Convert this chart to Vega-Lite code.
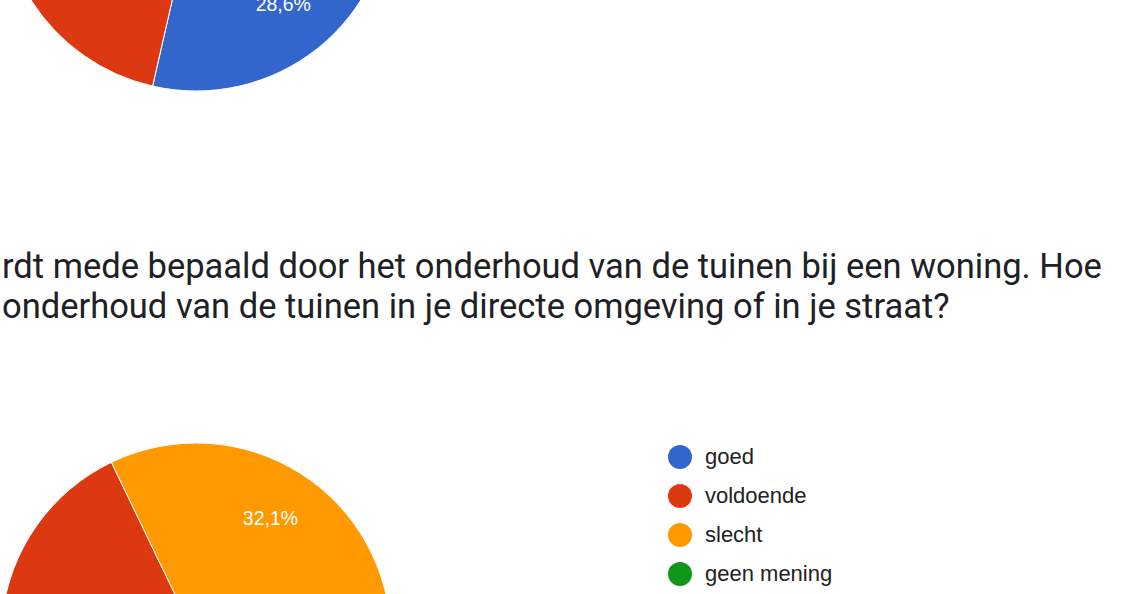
{
  "$schema": "https://vega.github.io/schema/vega-lite/v6.json",
  "width": 1140,
  "height": 594,
  "autosize": {"type": "none"},
  "padding": 0,
  "background": "white",
  "config": {
    "view": {"stroke": null},
    "locale": {"number": {"decimal": ",", "thousands": ".", "grouping": [3], "currency": ["€ ", ""]}}
  },
  "title": {
    "text": ["rdt mede bepaald door het onderhoud van de tuinen bij een woning. Hoe", "onderhoud van de tuinen in je directe omgeving of in je straat?"],
    "anchor": "start",
    "frame": "group",
    "orient": "top",
    "offset": -352,
    "baseline": "alphabetic",
    "fontSize": 34.5,
    "fontWeight": "normal",
    "font": "Roboto",
    "color": "#202124",
    "lineHeight": 40,
    "dx": 2
  },
  "data": {
    "values": [
      {"vraag": "vorige vraag", "antwoord": "goed", "volgorde": 1, "aantal": 8},
      {"vraag": "vorige vraag", "antwoord": "voldoende", "volgorde": 2, "aantal": 14},
      {"vraag": "vorige vraag", "antwoord": "slecht", "volgorde": 3, "aantal": 5},
      {"vraag": "vorige vraag", "antwoord": "geen mening", "volgorde": 4, "aantal": 1},
      {"vraag": "onderhoud tuinen", "antwoord": "goed", "volgorde": 1, "aantal": 10},
      {"vraag": "onderhoud tuinen", "antwoord": "voldoende", "volgorde": 2, "aantal": 9},
      {"vraag": "onderhoud tuinen", "antwoord": "slecht", "volgorde": 3, "aantal": 9},
      {"vraag": "onderhoud tuinen", "antwoord": "geen mening", "volgorde": 4, "aantal": 0}
    ]
  },
  "transform": [
    {"stack": "aantal", "groupby": ["vraag"], "sort": [{"field": "volgorde", "order": "ascending"}], "as": ["start", "eind"], "offset": "normalize"},
    {"calculate": "(datum.start + datum.eind) / 2", "as": "midden"},
    {"calculate": "datum.eind - datum.start", "as": "aandeel"}
  ],
  "encoding": {
    "x": {"field": "vraag", "type": "nominal", "scale": {"type": "point", "domain": ["vorige vraag", "onderhoud tuinen"], "range": [196, 196], "padding": 0}, "axis": null},
    "y": {"field": "vraag", "type": "nominal", "scale": {"type": "point", "domain": ["vorige vraag", "onderhoud tuinen"], "range": [-104, 638], "padding": 0}, "axis": null}
  },
  "layer": [
    {
      "mark": {"type": "arc", "radius": 195, "stroke": "white", "strokeWidth": 1, "clip": true},
      "encoding": {
        "theta": {"field": "start", "type": "quantitative", "scale": {"domain": [0, 1], "range": [1.5708, 7.854]}},
        "theta2": {"field": "eind"},
        "color": {
          "field": "antwoord",
          "type": "nominal",
          "scale": {"domain": ["goed", "voldoende", "slecht", "geen mening"], "range": ["#3366CC", "#DC3912", "#FF9900", "#109618"]},
          "legend": {
            "title": null,
            "orient": "none",
            "legendX": 668,
            "legendY": 445,
            "symbolType": "circle",
            "symbolSize": 576,
            "symbolStrokeWidth": 0,
            "symbolOpacity": 1,
            "labelFont": "Liberation Sans",
            "labelFontSize": 22,
            "labelColor": "#222222",
            "labelOffset": 13,
            "rowPadding": 15
          }
        }
      }
    },
    {
      "transform": [{"filter": "datum.aandeel > 0.05"}],
      "mark": {"type": "text", "radius": 140, "color": "white", "font": "Liberation Sans", "fontSize": 19.5, "align": "center", "baseline": "middle", "clip": true},
      "encoding": {
        "theta": {"field": "midden", "type": "quantitative"},
        "text": {"field": "aandeel", "type": "quantitative", "format": ".1%"}
      }
    }
  ]
}
